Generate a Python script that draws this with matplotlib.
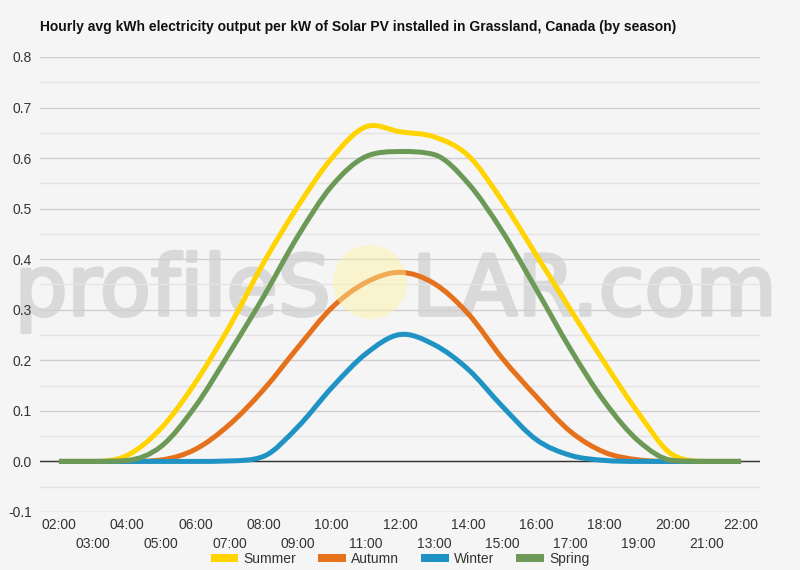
import numpy as np
import matplotlib.pyplot as plt
import matplotlib.patheffects as pe
from matplotlib.path import Path
from matplotlib.patches import PathPatch, Patch, Circle
from matplotlib.ticker import MultipleLocator

# ---------------- data ----------------
hours = list(range(2, 23))
hour_labels = [f'{h:02d}:00' for h in hours]

summer = [0.0, 0.0, 0.012, 0.066, 0.156, 0.267, 0.393, 0.504, 0.600, 0.662, 0.652,
          0.642, 0.605, 0.515, 0.408, 0.300, 0.195, 0.095, 0.013, 0.0, 0.0]
autumn = [0.0, 0.0, 0.0, 0.003, 0.024, 0.073, 0.142, 0.225, 0.304, 0.354, 0.374,
          0.352, 0.292, 0.204, 0.128, 0.059, 0.018, 0.003, 0.0, 0.0, 0.0]
winter = [0.0, 0.0, 0.0, 0.0, 0.0, 0.001, 0.010, 0.068, 0.146, 0.213, 0.251,
          0.231, 0.182, 0.109, 0.043, 0.012, 0.002, 0.0, 0.0, 0.0, 0.0]
spring = [0.0, 0.0, 0.002, 0.030, 0.109, 0.215, 0.326, 0.445, 0.545, 0.603, 0.613,
          0.607, 0.550, 0.455, 0.340, 0.222, 0.118, 0.040, 0.002, 0.0, 0.0]

series = [('Summer', summer, '#ffd400'),
          ('Autumn', autumn, '#e5711d'),
          ('Winter', winter, '#1f93c4'),
          ('Spring', spring, '#6c9a56')]

BG = '#f5f5f5'
plt.rcParams['font.family'] = ['Liberation Sans', 'DejaVu Sans']


def smooth_path(xs, ys):
    # cubic hermite, central-difference tangents limited so flat parts stay flat
    x = np.asarray(xs, float)
    y = np.asarray(ys, float)
    n = len(x)
    delta = np.diff(y) / np.diff(x)
    m = np.zeros(n)
    m[1:-1] = (y[2:] - y[:-2]) / (x[2:] - x[:-2])
    m[0] = delta[0]
    m[-1] = delta[-1]
    for k in range(n - 1):
        if delta[k] == 0:
            m[k] = m[k + 1] = 0
            continue
        a = m[k] / delta[k]
        b = m[k + 1] / delta[k]
        s = a * a + b * b
        if s > 9:
            tau = 3 / np.sqrt(s)
            m[k] = tau * a * delta[k]
            m[k + 1] = tau * b * delta[k]
    verts = [(x[0], y[0])]
    codes = [Path.MOVETO]
    for k in range(n - 1):
        h = (x[k + 1] - x[k]) / 3
        verts += [(x[k] + h, y[k] + m[k] * h),
                  (x[k + 1] - h, y[k + 1] - m[k + 1] * h),
                  (x[k + 1], y[k + 1])]
        codes += [Path.CURVE4] * 3
    return Path(verts, codes)


fig = plt.figure(figsize=(8, 5.7), dpi=100, facecolor=BG)
ax = fig.add_axes([0.05, 0.1018, 0.9, 0.7982])
ax.set_facecolor(BG)

ax.set_xlim(1.443, 22.557)
ax.set_ylim(-0.1, 0.8)

ax.yaxis.set_minor_locator(MultipleLocator(0.05))
ax.set_yticks(np.arange(-0.1, 0.81, 0.1))
ax.set_yticklabels(['-0.1', '0.0', '0.1', '0.2', '0.3', '0.4', '0.5', '0.6', '0.7', '0.8'])
ax.grid(axis='y', which='major', color='#cfcfcf', lw=1)
ax.grid(axis='y', which='minor', color='#e4e4e4', lw=1)
ax.set_axisbelow(True)

ax.set_xticks(hours[::2])
ax.set_xticklabels(hour_labels[::2])
ax.set_xticks(hours[1::2], minor=True)
ax.set_xticklabels(hour_labels[1::2], minor=True)
ax.tick_params(axis='x', which='major', length=0, pad=4, labelsize=10, labelcolor='#333333')
ax.tick_params(axis='x', which='minor', length=0, pad=18, labelsize=10, labelcolor='#333333')
ax.tick_params(axis='y', which='both', length=0, pad=6, labelsize=10, labelcolor='#333333')

for s in ax.spines.values():
    s.set_visible(False)

ax.axhline(0, color='#333333', lw=1, zorder=1.5)

for name, vals, col in series:
    patch = PathPatch(smooth_path(hours, vals), facecolor='none', edgecolor=col,
                      lw=3.6, capstyle='butt', joinstyle='round', zorder=3)
    ax.add_patch(patch)

# watermark (below grid and lines)
wm_kw = dict(fontsize=60, color='#d9d9d9', va='baseline', zorder=0.3,
             family='DejaVu Sans', transform=fig.transFigure, clip_on=False,
             path_effects=[pe.withStroke(linewidth=2.6, foreground='#d9d9d9')])
ax.text(331 / 800, 1 - 315 / 570, 'profileS', ha='right', **wm_kw)
ax.text(412 / 800, 1 - 315 / 570, 'LAR.com', ha='left', **wm_kw)
sun = Circle((370 / 800 * 8, (1 - 282 / 570) * 5.7), 37 / 100,
             transform=fig.dpi_scale_trans, facecolor='#fff3a0', alpha=0.45,
             edgecolor='none', zorder=5)
fig.patches.append(sun)

fig.text(40 / 800, 1 - 27 / 570,
         'Hourly avg kWh electricity output per kW of Solar PV installed in Grassland, Canada (by season)',
         ha='left', va='center', fontsize=10, fontweight='bold', color='#111111')

handles = [Patch(facecolor=col, edgecolor='none', label=name) for name, _, col in series]
fig.legend(handles=handles, loc='center', bbox_to_anchor=(0.5, 1 - 559 / 570), ncol=4,
           frameon=False, fontsize=10, handlelength=2.0, handleheight=0.55,
           handletextpad=0.35, columnspacing=1.6, labelcolor='#333333')

fig.savefig('out.png', dpi=100, facecolor=BG)
